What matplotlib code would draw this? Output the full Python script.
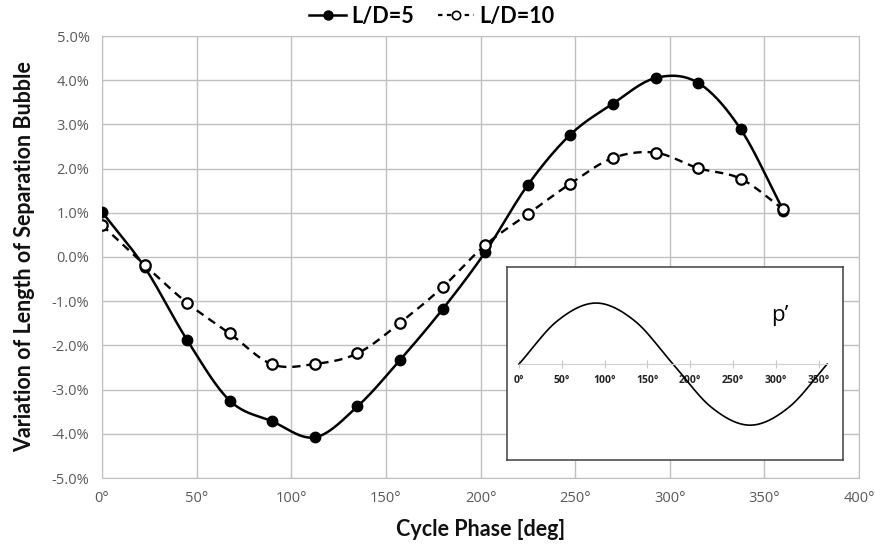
import numpy as np
import matplotlib
matplotlib.use('Agg')
from matplotlib import pyplot as plt
from matplotlib.ticker import FuncFormatter, MultipleLocator

# cycle phase of the samples [deg]
phase = [0, 22.5, 45, 67.5, 90, 112.5, 135, 157.5, 180,
         202.5, 225, 247.5, 270, 292.5, 315, 337.5, 360]

# variation of bubble length [%]
ld5 = [1.02, -0.23, -1.88, -3.25, -3.72, -4.08, -3.38, -2.33, -1.18,
       0.11, 1.63, 2.77, 3.47, 4.05, 3.94, 2.89, 1.05]
ld10 = [0.72, -0.18, -1.04, -1.73, -2.43, -2.42, -2.18, -1.49, -0.68,
        0.27, 0.97, 1.66, 2.24, 2.36, 2.01, 1.77, 1.08]

series_labels = ['L/D=5', 'L/D=10']

# pressure fluctuation sketch in the inset (normalised)
p_phase = [0, 45, 90, 135, 180, 225, 270, 315, 360]
p_values = [0.0, 0.71, 1.0, 0.71, 0.0, -0.71, -1.0, -0.71, 0.0]

x_ticks = [0, 50, 100, 150, 200, 250, 300, 350, 400]
inset_ticks = [0, 50, 100, 150, 200, 250, 300, 350]


def smooth(x, y, n=20):
    # Catmull-Rom curve through the points, like Excel's smoothed line
    x = np.asarray(x, float)
    y = np.asarray(y, float)
    px = np.concatenate([[2 * x[0] - x[1]], x, [2 * x[-1] - x[-2]]])
    py = np.concatenate([[2 * y[0] - y[1]], y, [2 * y[-1] - y[-2]]])
    t = np.linspace(0, 1, n, endpoint=False)
    xs, ys = [], []
    for i in range(1, len(px) - 2):
        for p, out in ((px, xs), (py, ys)):
            p0, p1, p2, p3 = p[i - 1], p[i], p[i + 1], p[i + 2]
            out.append(0.5 * (2 * p1 + (-p0 + p2) * t
                              + (2 * p0 - 5 * p1 + 4 * p2 - p3) * t ** 2
                              + (-p0 + 3 * p1 - 3 * p2 + p3) * t ** 3))
    xs.append([x[-1]])
    ys.append([y[-1]])
    return np.concatenate(xs), np.concatenate(ys)


grid_c = '#c0c0c0'
tick_c = '#595959'

fig = plt.figure(figsize=(8.75, 5.51), dpi=100)
ax = fig.add_axes([102 / 875, 1 - 478 / 551, 757 / 875, 442 / 551])

sx, sy = smooth(phase, ld5)
ax.plot(sx, sy, color='black', lw=1.8, zorder=3)
ax.plot(phase, ld5, 'o', color='black', ms=7.5, zorder=4)
h5, = ax.plot([], [], '-o', color='black', lw=1.8, ms=6.5, label=series_labels[0])

sx, sy = smooth(phase, ld10)
ax.plot(sx, sy, color='black', lw=1.7, ls=(0, (3.5, 2.5)), zorder=3)
ax.plot(phase, ld10, 'o', mfc='white', mec='black', mew=1.6, ms=7.5, zorder=4)
h10, = ax.plot([], [], 'o', ls=(0, (2, 2)), color='black', lw=1.6, mfc='white',
               mec='black', mew=1.2, ms=6, label=series_labels[1])

ax.set_xlim(0, 400)
ax.set_ylim(-5, 5)
ax.set_xticks(x_ticks)
ax.yaxis.set_major_locator(MultipleLocator(1))
ax.xaxis.set_major_formatter(FuncFormatter(lambda v, p: f'{v:.0f}°'))
ax.yaxis.set_major_formatter(FuncFormatter(lambda v, p: f'{v:.1f}%'))
ax.grid(True, color=grid_c, lw=1)
ax.tick_params(length=0, pad=9, labelsize=10.5, labelcolor=tick_c)
for lbl in ax.get_xticklabels() + ax.get_yticklabels():
    lbl.set_fontfamily('Open Sans')
for s in ax.spines.values():
    s.set_color(grid_c)

ax.set_xlabel('Cycle Phase [deg]', fontsize=15.5, fontweight='bold', family='Lato',
              labelpad=10, color='#111111')
ax.set_ylabel('Variation of Length of Separation Bubble', fontsize=15.5, fontweight='bold',
              family='Lato', labelpad=12, color='#111111')

fig.legend(handles=[h5, h10], loc='center', bbox_to_anchor=(432 / 875, 1 - 16 / 551), ncol=2,
           frameon=False, handlelength=1.7, columnspacing=1.1, handletextpad=0.25,
           prop={'family': 'Lato', 'weight': 'bold', 'size': 15.5})

# inset with the pressure signal
box = fig.add_axes([507 / 875, 1 - 460 / 551, 336 / 875, 193 / 551])
box.set_xticks([])
box.set_yticks([])
for s in box.spines.values():
    s.set_color('#404040')
    s.set_linewidth(1.1)

ins = fig.add_axes([507 / 875, 1 - 460 / 551, 336 / 875, 193 / 551])
ins.patch.set_visible(False)
px_, py_ = smooth(p_phase, p_values)
ins.plot(px_, py_, color='black', lw=1.2)
ins.set_xlim(-14, 378.5)
ins.set_ylim(-1.57, 1.59)
for k in ('left', 'right', 'top'):
    ins.spines[k].set_visible(False)
ins.spines['bottom'].set_position(('data', 0))
ins.spines['bottom'].set_bounds(0, 360)
ins.spines['bottom'].set_color('#d0d0d0')
ins.set_yticks([])
ins.set_xticks(inset_ticks)
ins.xaxis.set_major_formatter(FuncFormatter(lambda v, p: f'{v:.0f}°'))
ins.tick_params(axis='x', direction='inout', length=6, color='#c8c8c8', pad=5,
                labelsize=7.5, labelcolor='#222222')
for lbl in ins.get_xticklabels():
    lbl.set_fontweight('bold')
    lbl.set_fontfamily('Open Sans')
ins.text(295, 0.8, 'p’', fontsize=16, family='Open Sans', va='center')

fig.savefig('out.png', dpi=100)
